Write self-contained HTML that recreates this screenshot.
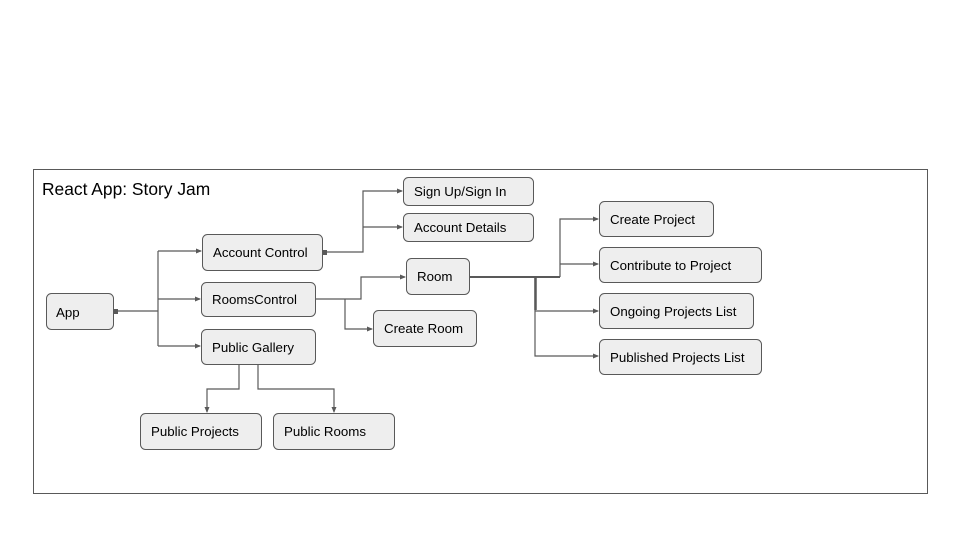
<!DOCTYPE html>
<html><head><meta charset="utf-8"><style>
html,body{margin:0;padding:0;background:#fff;width:960px;height:540px;overflow:hidden}
svg text{font-family:"Liberation Sans",Arial,sans-serif;font-size:13.3px;fill:#000}
</style></head><body>
<svg width="960" height="540" viewBox="0 0 960 540" xmlns="http://www.w3.org/2000/svg">
<defs><marker id="a" markerWidth="6" markerHeight="6" refX="5" refY="3" orient="auto" markerUnits="userSpaceOnUse"><path d="M0,0.5 L6,3 L0,5.5z" fill="#595959"/></marker></defs>
<rect x="33.5" y="169.5" width="894" height="324" fill="#fff" stroke="#595959" stroke-width="1"/>
<text x="42" y="195" style="font-size:17.4px">React App: Story Jam</text>
<g fill="none" stroke="#595959" stroke-width="1.2">
<path d="M113,311 H158 M158,251 V346"/>
<path d="M158,251 H201" marker-end="url(#a)"/>
<path d="M158,299 H200" marker-end="url(#a)"/>
<path d="M158,346 H200" marker-end="url(#a)"/>
<path d="M322,252 H363 V191 H402" marker-end="url(#a)"/>
<path d="M363,227 H402" marker-end="url(#a)"/>
<path d="M315,299 H361 V277 H405" marker-end="url(#a)"/>
<path d="M345,299 V329 H372" marker-end="url(#a)"/>
<path d="M469,277 H560" stroke-width="2"/>
<path d="M560,277 V219 H598" marker-end="url(#a)"/>
<path d="M560,264 H598" marker-end="url(#a)"/>
<path d="M535.5,277 V310" stroke-width="2.5"/>
<path d="M535,277 V356 H598" marker-end="url(#a)"/>
<path d="M535,311 H598" marker-end="url(#a)"/>
<path d="M239,364 V389 H207 V412" marker-end="url(#a)"/>
<path d="M258,364 V389 H334 V412" marker-end="url(#a)"/>
</g>
<g fill="#eeeeee" stroke="#595959" stroke-width="1">
<rect x="46.5" y="293.5" width="67" height="36" rx="5"/>
<rect x="202.5" y="234.5" width="120" height="36" rx="5"/>
<rect x="201.5" y="282.5" width="114" height="34" rx="5"/>
<rect x="201.5" y="329.5" width="114" height="35" rx="5"/>
<rect x="403.5" y="177.5" width="130" height="28" rx="5"/>
<rect x="403.5" y="213.5" width="130" height="28" rx="5"/>
<rect x="406.5" y="258.5" width="63" height="36" rx="5"/>
<rect x="373.5" y="310.5" width="103" height="36" rx="5"/>
<rect x="599.5" y="201.5" width="114" height="35" rx="5"/>
<rect x="599.5" y="247.5" width="162" height="35" rx="5"/>
<rect x="599.5" y="293.5" width="154" height="35" rx="5"/>
<rect x="599.5" y="339.5" width="162" height="35" rx="5"/>
<rect x="140.5" y="413.5" width="121" height="36" rx="5"/>
<rect x="273.5" y="413.5" width="121" height="36" rx="5"/>
</g>
<rect x="114" y="309" width="4" height="5" fill="#595959"/>
<rect x="323" y="250" width="4" height="5" fill="#595959"/>
<text x="56" y="317">App</text>
<text x="213" y="257">Account Control</text>
<text x="212" y="304">RoomsControl</text>
<text x="212" y="352">Public Gallery</text>
<text x="414" y="196">Sign Up/Sign In</text>
<text x="414" y="232">Account Details</text>
<text x="417" y="281">Room</text>
<text x="384" y="333">Create Room</text>
<text x="610" y="224">Create Project</text>
<text x="610" y="270">Contribute to Project</text>
<text x="610" y="316">Ongoing Projects List</text>
<text x="610" y="362">Published Projects List</text>
<text x="151" y="436">Public Projects</text>
<text x="284" y="436">Public Rooms</text>
</svg>
</body></html>
